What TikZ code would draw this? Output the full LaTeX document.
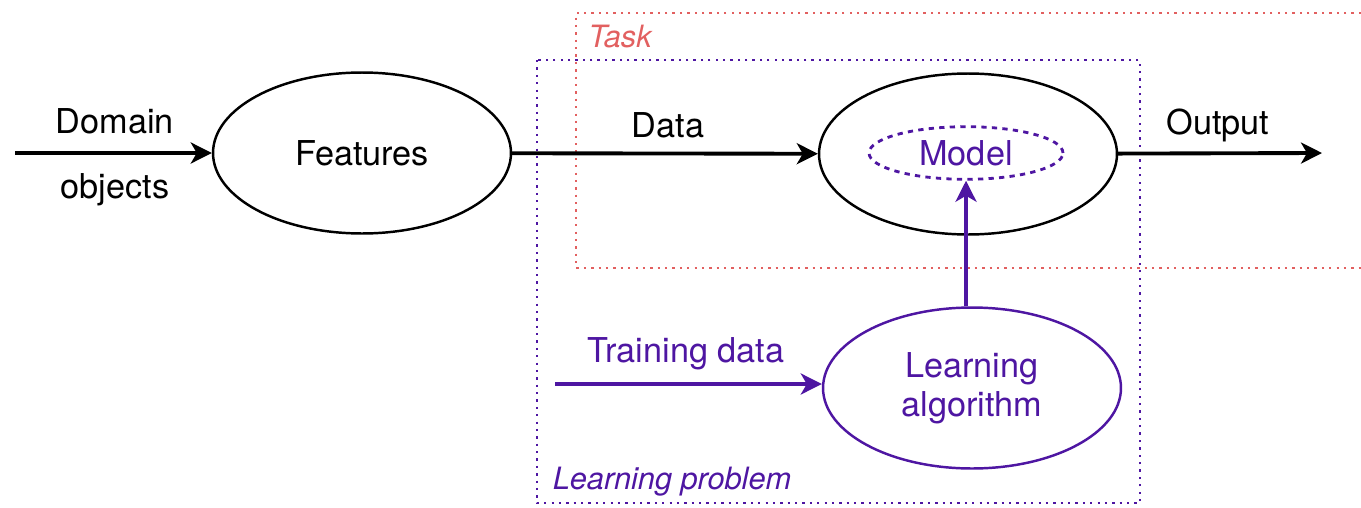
\documentclass[tikz,border=0pt]{standalone}
\usepackage{fontspec}
\setmainfont{TeX Gyre Heros}
\usetikzlibrary{shapes.geometric,arrows.meta}
\definecolor{lpurple}{RGB}{78,22,162}
\definecolor{taskred}{RGB}{226,96,96}
\begin{document}
\begin{tikzpicture}[x=0.02cm,y=-0.02cm,
    every node/.style={font=\fontsize{19.5}{24}\selectfont},
    blob/.style={draw,ellipse,line width=1.4pt,inner sep=0pt,minimum width=5.96cm,minimum height=3.22cm},
    flow/.style={line width=2.2pt,-{Stealth[length=0.42cm,width=0.42cm,inset=0.12cm]}},
    frame/.style={line width=1.3pt,dash pattern=on 1.3pt off 2.9pt}]
                \useasboundingbox (0,0) rectangle (1361,507);
                \coordinate (dom) at (15,153);
                \coordinate (out) at (1322,153);
                \coordinate (train) at (555,384);
                %
                \node[blob] (feat) at (362,153) {Features};
                \node[blob] (model) at (968,154) {};
                \node[draw=lpurple,ellipse,dashed,line width=1.6pt,minimum width=3.88cm,minimum height=0.98cm,
                      text=lpurple] (inner) at (966,153) {Model};
                \node[blob,draw=lpurple,text=lpurple,align=center] (learn) at (972,388) {Learning\\[-2pt]algorithm};
                % task and learning problem frames
                \draw[frame,taskred] (1361,13) -- (576,13) -- (576,268) -- (1361,268);
                \node[taskred,font=\fontsize{17.5}{21}\selectfont\itshape] (task) at (620,37) {Task};
                \draw[frame,lpurple] (537,60) rectangle (1140,503);
                \node[lpurple,font=\fontsize{17.5}{21}\selectfont\itshape] (lprob) at (672,482) {Learning problem};
                % labels
                \node (domlab) at (115,121) {Domain};
                \node (objlab) at (115,190) {objects};
                \node (datalab) at (668,125) {Data};
                \node (outlab) at (1218,125) {Output};
                \node[text=lpurple] (trainlab) at (686,354) {Training data};
                % arrows
                \draw[flow] (dom) -- (feat);
                \draw[flow] (feat) -- (model);
                \draw[flow] (model) -- (out);
                \draw[flow,lpurple] (train) -- (learn.west |- train);
                \draw[flow,lpurple] (learn.north -| inner.south) -- (inner.south);
\end{tikzpicture}
\end{document}
